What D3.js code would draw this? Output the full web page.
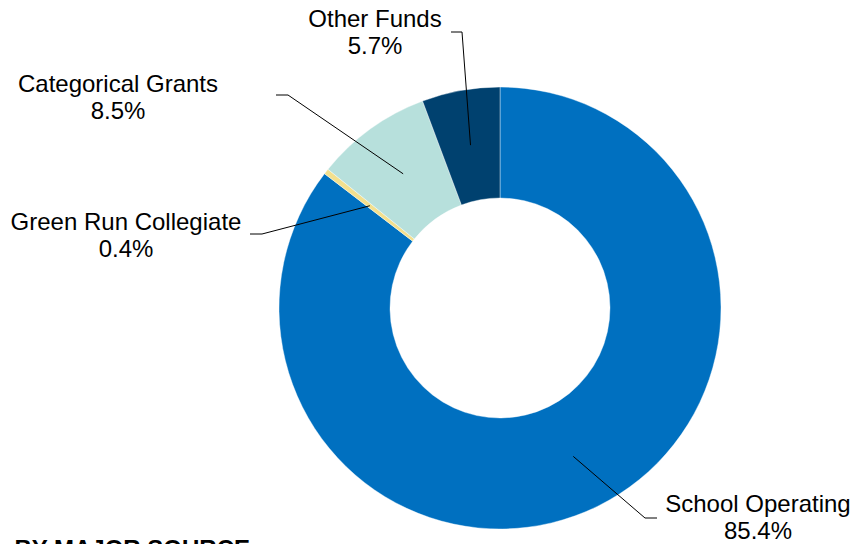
<!DOCTYPE html>
<html>
<head>
<meta charset="utf-8">
<script src="https://cdn.jsdelivr.net/npm/d3@7/dist/d3.min.js"></script>
<style>
  html, body { margin: 0; padding: 0; background: #fff; overflow: hidden; }
  svg { display: block; font-family: Arial, "Liberation Sans", sans-serif; }
</style>
</head>
<body>
<svg id="chart" width="852" height="544"></svg>
<script>
// Revenue shares by source (percent), clockwise from 12 o'clock
const categories = ["School Operating", "Green Run Collegiate", "Categorical Grants", "Other Funds"];
const shares = [85.4, 0.4, 8.5, 5.7];
const colors = ["#0070C0", "#F3E08E", "#B7E0DC", "#00416F"];

// Label placement: text centre, first baseline, and leader-line elbow
const labelLayout = [
  { x: 758, y: 512, elbow: [[645, 518], [657, 518]] },
  { x: 126, y: 230, elbow: [[262, 234], [250, 234]] },
  { x: 118, y: 92,  elbow: [[288, 95],  [276, 95]] },
  { x: 375, y: 27,  elbow: [[462, 32],  [451, 32]] }
];

const svg = d3.select("#chart");
const cx = 500, cy = 308, rOuter = 221, rInner = 110;

const data = categories.map((c, i) => ({ name: c, value: shares[i], color: colors[i], layout: labelLayout[i] }));

const pie = d3.pie().sort(null).value(d => d.value);
const arc = d3.arc().innerRadius(rInner).outerRadius(rOuter);
const arcs = pie(data);

const g = svg.append("g").attr("transform", `translate(${cx},${cy})`);

g.selectAll("path.slice")
  .data(arcs)
  .join("path")
  .attr("class", "slice")
  .attr("d", arc)
  .attr("fill", d => d.data.color)
  .attr("stroke", "#ffffff")
  .attr("stroke-width", 0.4);

// Leader lines from slice centroid to the label elbow
const line = d3.line();
svg.selectAll("path.leader")
  .data(arcs)
  .join("path")
  .attr("class", "leader")
  .attr("d", d => {
    const [mx, my] = arc.centroid(d);
    return line([[cx + mx, cy + my], ...d.data.layout.elbow]);
  })
  .attr("fill", "none")
  .attr("stroke", "#000")
  .attr("stroke-width", 1);

// Category + percentage labels
const labels = svg.selectAll("text.label")
  .data(arcs)
  .join("text")
  .attr("class", "label")
  .attr("text-anchor", "middle")
  .attr("font-size", 24)
  .attr("fill", "#000");

labels.append("tspan")
  .attr("x", d => d.data.layout.x)
  .attr("y", d => d.data.layout.y)
  .text(d => d.data.name);

labels.append("tspan")
  .attr("x", d => d.data.layout.x)
  .attr("dy", 27)
  .text(d => d3.format(".1f")(d.data.value) + "%");

// Section heading running off the bottom edge
svg.append("text")
  .attr("x", 250)
  .attr("y", 557)
  .attr("text-anchor", "end")
  .attr("font-size", 24)
  .attr("font-weight", "bold")
  .attr("fill", "#000")
  .text("BY MAJOR SOURCE");
</script>
</body>
</html>
